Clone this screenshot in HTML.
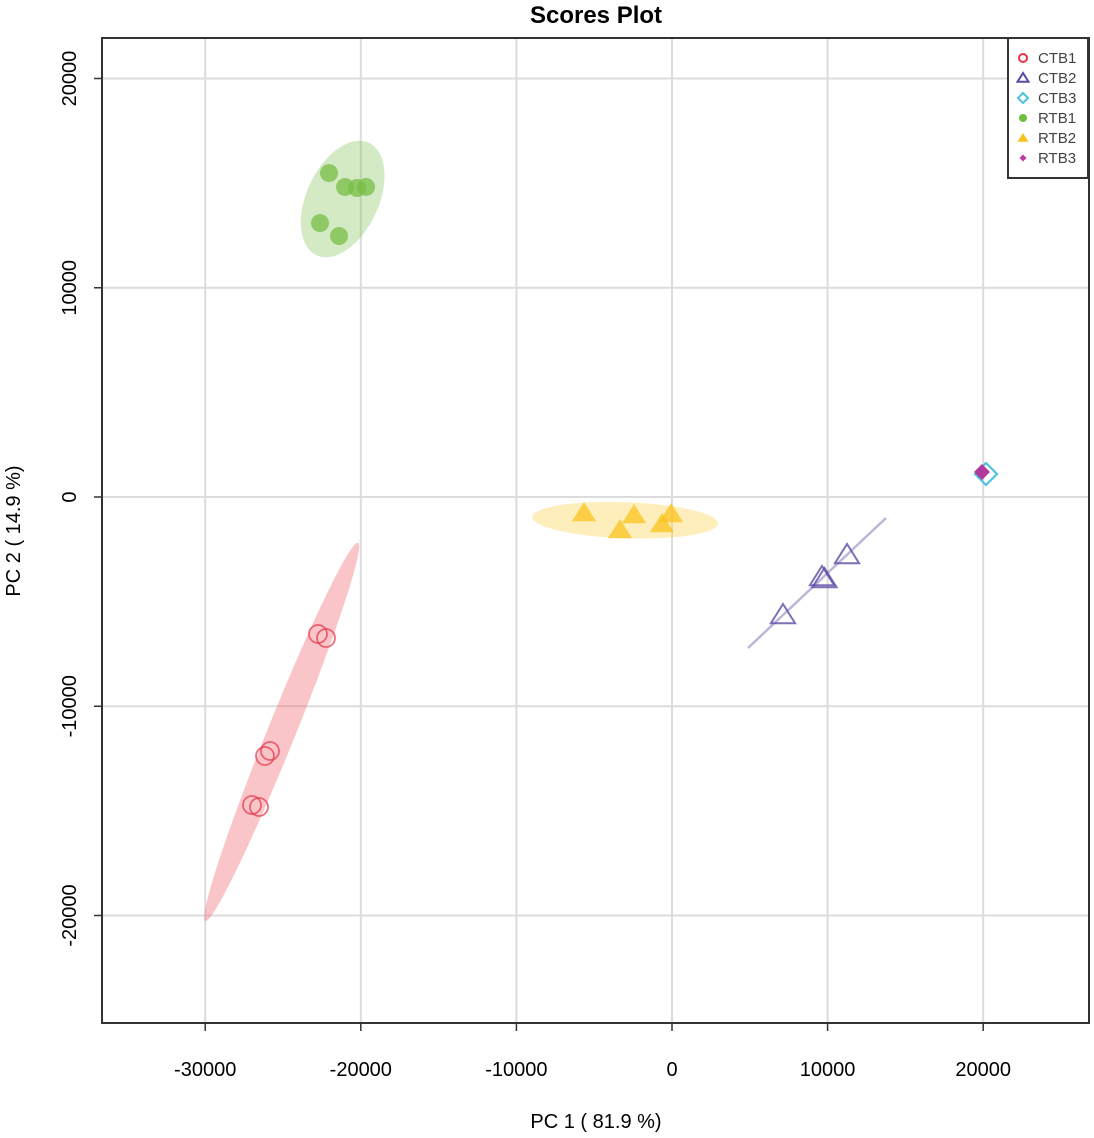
<!DOCTYPE html>
<html><head><meta charset="utf-8"><style>
html,body{margin:0;padding:0;background:#fff;}
svg{display:block;font-family:"Liberation Sans",sans-serif;}
</style></head><body>
<svg id="chart" width="1094" height="1138" viewBox="0 0 1094 1138" xmlns="http://www.w3.org/2000/svg">
<text x="596" y="23" text-anchor="middle" font-size="24" font-weight="bold">Scores Plot</text>
<g id="grid"></g>
<g id="ellipses"></g>
<g id="points"></g>
<rect x="102" y="38" width="987" height="985" fill="none" stroke="#333" stroke-width="2"/>
<g id="ticks"></g>
<text x="596" y="1128" text-anchor="middle" font-size="20">PC 1 ( 81.9 %)</text>
<text transform="translate(20,531) rotate(-90)" text-anchor="middle" font-size="20">PC 2 ( 14.9 %)</text>
<g id="legend">
<rect x="1008" y="38" width="80" height="140" fill="#fff" stroke="#333" stroke-width="2"/>
</g>
</svg>
<script>
const xTicks=[-30000,-20000,-10000,0,10000,20000];
const yTicks=[-20000,-10000,0,10000,20000];
const groups=["CTB1","CTB2","CTB3","RTB1","RTB2","RTB3"];
const ctb1X=[-22751,-22237,-26157,-25835,-26992,-26542];
const ctb1Y=[-6547,-6738,-12378,-12139,-14719,-14815];
const ctb2X=[11247,9640,9800,7134];
const ctb2Y=[-2772,-3823,-3920,-5639];
const ctb3X=[20180];
const ctb3Y=[1099];
const rtb1X=[-22044,-21015,-20244,-19666,-22622,-21401];
const rtb1Y=[15480,14815,14767,14815,13094,12473];
const rtb2X=[-5656,-2442,-3342,-64,-643];
const rtb2Y=[-765,-860,-1577,-812,-1290];
const rtb3X=[19923];
const rtb3Y=[1195];

const NS="http://www.w3.org/2000/svg";
const X=v=>672+v*0.01556;
const Y=v=>497-v*0.020925;
function mk(tag,attrs,parent){const e=document.createElementNS(NS,tag);for(const k in attrs)e.setAttribute(k,attrs[k]);parent.appendChild(e);return e;}
const grid=document.getElementById('grid'),ticks=document.getElementById('ticks');
xTicks.forEach(t=>{
  const l=mk('line',{x1:X(t),x2:X(t),y1:38,y2:1023,stroke:'#dcdcdc','stroke-width':2},grid);
  
  
  const tx=mk('text',{x:X(t),y:1076,'text-anchor':'middle','font-size':20},ticks);
  tx.textContent=t;
  
  
});
yTicks.forEach(t=>{
  const l=mk('line',{x1:102,x2:1089,y1:Y(t),y2:Y(t),stroke:'#dcdcdc','stroke-width':2},grid);
  
  
  mk('line',{x1:94,x2:102,y1:Y(t),y2:Y(t),stroke:'#333','stroke-width':1.5},ticks);
  const tx=mk('text',{transform:`translate(76,${Y(t)}) rotate(-90)`,'text-anchor':'middle','font-size':20},ticks);
  tx.textContent=t;
  
  
});
xTicks.forEach(t=>mk('line',{x1:X(t),x2:X(t),y1:1023,y2:1031,stroke:'#333','stroke-width':1.5},ticks));

const mean=a=>a.reduce((s,v)=>s+v,0)/a.length;
const ell=document.getElementById('ellipses');
function ellipse(xs,ys,rx,ry,rot,fill,name,dx,dy){
  const cx=X(mean(xs))+(dx||0),cy=Y(mean(ys))+(dy||0);
  const e=mk('ellipse',{cx:0,cy:0,rx:rx,ry:ry,fill:fill,transform:`translate(${cx},${cy}) rotate(${rot})`},ell);
  
  
}
ellipse(ctb1X,ctb1Y,204,14,-68,'rgba(240,110,120,0.4)','ctb1-ellipse');
ellipse(rtb1X,rtb1Y,62,36,-65,'rgba(130,195,90,0.35)','rtb1-ellipse');
ellipse(rtb2X,rtb2Y,93,18,2,'rgba(250,205,60,0.35)','rtb2-ellipse',-9,1);
const cl=mk('line',{x1:748,y1:648,x2:886,y2:518,stroke:'rgba(110,90,170,0.45)','stroke-width':2.5},ell);



const pts=document.getElementById('points');
function tri(x,y,s){return `${x},${y-s} ${x-s*1.1},${y+s*0.75} ${x+s*1.1},${y+s*0.75}`;}
ctb1X.forEach((v,i)=>{const c=mk('circle',{cx:X(v),cy:Y(ctb1Y[i]),r:9,fill:'none',stroke:'rgba(230,60,80,0.75)','stroke-width':1.8},pts);
  });
rtb1X.forEach((v,i)=>{const c=mk('circle',{cx:X(v),cy:Y(rtb1Y[i]),r:9,fill:'rgba(120,190,70,0.75)'},pts);
  });
rtb2X.forEach((v,i)=>{const c=mk('polygon',{points:tri(X(v),Y(rtb2Y[i]),11),fill:'rgba(250,195,30,0.75)'},pts);
  });
ctb2X.forEach((v,i)=>{const c=mk('polygon',{points:tri(X(v),Y(ctb2Y[i]),11),fill:'none',stroke:'rgba(95,75,165,0.8)','stroke-width':2},pts);
  });
ctb3X.forEach((v,i)=>{const x=X(v),y=Y(ctb3Y[i]);const c=mk('polygon',{points:`${x},${y-11} ${x+11},${y} ${x},${y+11} ${x-11},${y}`,fill:'none',stroke:'#4cc3dc','stroke-width':2.2},pts);
  });
rtb3X.forEach((v,i)=>{const x=X(v),y=Y(rtb3Y[i]);const c=mk('polygon',{points:`${x},${y-8} ${x+8},${y} ${x},${y+8} ${x-8},${y}`,fill:'#b0399a'},pts);
  });

const lg=document.getElementById('legend');
const lgCol=['#e8334a','#5a4aa8','#4cc3dc','#6cbf3c','#f7c21a','#c0399e'];
groups.forEach((g,i)=>{
  const y=58+i*20,x=1023;
  const gg=mk('g',{},lg);
  
  
  if(i==0)mk('circle',{cx:x,cy:y,r:4,fill:'none',stroke:lgCol[i],'stroke-width':2},gg);
  if(i==1)mk('polygon',{points:tri(x,y,5),fill:'none',stroke:lgCol[i],'stroke-width':2},gg);
  if(i==2)mk('polygon',{points:`${x},${y-5} ${x+5},${y} ${x},${y+5} ${x-5},${y}`,fill:'none',stroke:lgCol[i],'stroke-width':2},gg);
  if(i==3)mk('circle',{cx:x,cy:y,r:4,fill:lgCol[i]},gg);
  if(i==4)mk('polygon',{points:tri(x,y,5),fill:lgCol[i]},gg);
  if(i==5)mk('polygon',{points:`${x},${y-3.5} ${x+3.5},${y} ${x},${y+3.5} ${x-3.5},${y}`,fill:lgCol[i]},gg);
  const t=mk('text',{x:1038,y:y+5,'font-size':15,fill:'#444'},gg);t.textContent=g;
});
</script>
</body></html>
